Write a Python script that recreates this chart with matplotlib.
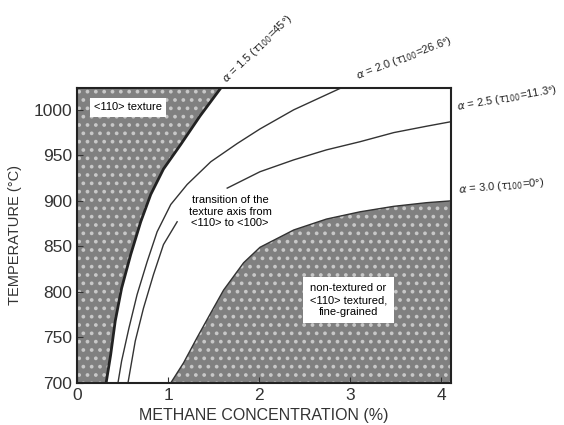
import numpy as np
import matplotlib.pyplot as plt

# boundary curves: (methane %, temperature °C)
a15_x = [0.32, 0.37, 0.42, 0.49, 0.59, 0.70, 0.81, 0.95, 1.14, 1.35, 1.58]
a15_t = [700, 731, 768, 804, 841, 877, 907, 935, 962, 993, 1024]

a20_x = [0.45, 0.49, 0.57, 0.66, 0.77, 0.88, 1.03, 1.21, 1.47, 1.76, 2.01, 2.38, 2.90]
a20_t = [700, 724, 760, 797, 833, 866, 896, 918, 943, 963, 979, 1000, 1024]

# alpha = 2.5 is broken where the "transition" text sits
a25_lo_x = [0.56, 0.64, 0.73, 0.84, 0.95, 1.10]
a25_lo_t = [700, 746, 782, 819, 852, 877]
a25_hi_x = [1.65, 2.01, 2.38, 2.74, 3.11, 3.48, 3.84, 4.11]
a25_hi_t = [914, 932, 945, 956, 965, 975, 982, 987]

a30_x = [1.03, 1.17, 1.32, 1.47, 1.61, 1.83, 2.01, 2.38, 2.74, 3.11, 3.48, 3.84, 4.11]
a30_t = [700, 722, 750, 777, 802, 832, 849, 868, 880, 888, 894, 898, 900]

xmax, tmin, tmax = 4.11, 700, 1024
x_ticks = [0, 1, 2, 3, 4]
t_ticks = [700, 750, 800, 850, 900, 950, 1000]

plt.rcParams['font.family'] = ['Liberation Sans', 'DejaVu Sans']
plt.rcParams['hatch.linewidth'] = 1.5

fig = plt.figure(figsize=(5.64, 4.25), dpi=100)
ax = fig.add_axes([0.1365, 0.099, 0.6635, 0.694])

shade = dict(facecolor='#808080', edgecolor='#c8c8c8', hatch='..', linewidth=0)

# <110> textured region on the left
ax.fill_betweenx(a15_t, 0, a15_x, **shade)
# non-textured region at bottom right
ax.fill_between(a30_x, tmin, a30_t, **shade)

ax.plot(a15_x, a15_t, color='#222222', lw=2)
ax.plot(a20_x, a20_t, color='#333333', lw=1)
ax.plot(a25_lo_x, a25_lo_t, color='#333333', lw=1)
ax.plot(a25_hi_x, a25_hi_t, color='#333333', lw=1)
ax.plot(a30_x, a30_t, color='#333333', lw=1)

ax.set_xlim(0, xmax)
ax.set_ylim(tmin, tmax)
ax.set_xticks(x_ticks)
ax.set_yticks(t_ticks)
ax.tick_params(labelsize=12.5, direction='in', colors='#333333', length=4)
for s in ax.spines.values():
    s.set_linewidth(1.5)
    s.set_color('#222222')

ax.set_xlabel('METHANE CONCENTRATION (%)', fontsize=11.5, color='#333333')
ax.set_ylabel('TEMPERATURE (°C)', fontsize=10.5, color='#333333', labelpad=8)

box = dict(boxstyle='square,pad=0.4', facecolor='white', edgecolor='none')
ax.text(0.56, 1003, '<110> texture', fontsize=8, ha='center', va='center', bbox=box)
ax.text(2.98, 791, 'non-textured or\n<110> textured,\nfine-grained', fontsize=8,
        ha='center', va='center', bbox=dict(boxstyle='square,pad=0.6', facecolor='white', edgecolor='none'))
ax.text(1.68, 888, 'transition of the\ntexture axis from\n<110> to <100>', fontsize=8,
        ha='center', va='center')

lab = dict(fontsize=8, ha='left', va='bottom', rotation_mode='anchor', clip_on=False, color='#222222')
ax.text(1.67, 1026, r'$\alpha$ = 1.5 ($\tau_{100}$=45°)', rotation=44, **lab)
ax.text(3.10, 1030, r'$\alpha$ = 2.0 ($\tau_{100}$=26.6°)', rotation=21, **lab)
ax.text(4.18, 995, r'$\alpha$ = 2.5 ($\tau_{100}$=11.3°)', rotation=10, **lab)
ax.text(4.20, 904, r'$\alpha$ = 3.0 ($\tau_{100}$=0°)', rotation=5, **lab)

fig.savefig('out.png', dpi=100)
